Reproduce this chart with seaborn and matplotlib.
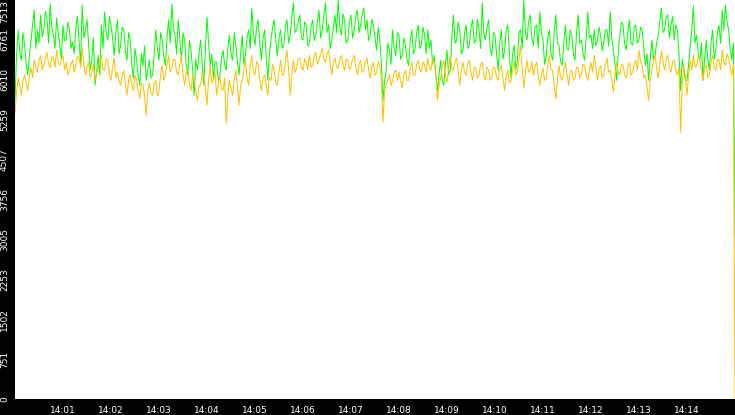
import numpy as np
import pandas as pd
import matplotlib
matplotlib.use("Agg")
import matplotlib.pyplot as plt
import matplotlib.dates as mdates
import seaborn as sns

sns.set_theme(style="white")
plt.rcParams["font.family"] = ["DejaVu Sans"]

start = "2024-01-01 14:00:00"
end = "2024-01-01 14:15:00"
step = "2s"

green = [
    5620, 6500, 6950, 6520, 6380, 6900, 6660, 6300, 6100, 6450, 6760, 7050, 7320, 6600, 6950, 6700, 7230, 6820, 6950, 7300,
    7140, 6700, 7440, 7000, 6850, 6600, 7170, 6900, 6660, 6400, 7040, 6750, 6760, 7100, 6950, 6600, 6720, 6500, 6980, 7200,
    6760, 6300, 7420, 6800, 6950, 7150, 6660, 6200, 6380, 6800, 5910, 6150, 6470, 6100, 7040, 6600, 7290, 6900, 6760, 7200,
    7040, 6800, 6470, 6900, 7140, 6500, 6660, 7000, 6950, 6550, 6380, 6900, 6760, 6300, 6040, 6600, 6380, 6100, 5910, 6500,
    6280, 6650, 6000, 6200, 6380, 6050, 6100, 6500, 6950, 6600, 6380, 6900, 6760, 6450, 6280, 6800, 7140, 6700, 7440, 7000,
    6850, 6500, 7140, 6800, 6380, 6900, 6760, 6300, 6100, 6750, 6570, 6200, 5720, 6400, 6190, 6500, 6760, 6300, 5910, 6600,
    7190, 6700, 6280, 6500, 6040, 6350, 6340, 6000, 6100, 6400, 6570, 6300, 6190, 6600, 6850, 6500, 6380, 6900, 6660, 6350,
    6100, 6500, 6850, 6300, 6470, 6800, 6950, 6600, 7360, 6900, 6660, 7000, 7140, 6700, 6380, 6800, 6950, 6450, 6000, 6500,
    6760, 7000, 7140, 6750, 6470, 6800, 6950, 6600, 6660, 7000, 7140, 6700, 6850, 7200, 7460, 6900, 6950, 7100, 7230, 6800,
    6760, 7100, 7040, 6650, 6700, 7000, 7140, 6750, 6850, 7100, 7320, 6800, 6950, 7200, 7460, 6900, 7040, 6600, 6760, 7000,
    7230, 6900, 7510, 7000, 6850, 7250, 7140, 6700, 6760, 7100, 7230, 6800, 6950, 7200, 7320, 6900, 7040, 7250, 7360, 6950,
    7140, 6750, 6850, 7150, 7040, 6800, 6570, 7000, 6760, 6300, 5620, 6000, 6190, 6700, 6570, 6300, 6950, 6600, 6470, 6900,
    6850, 6400, 6470, 6800, 6660, 6400, 6280, 6750, 6950, 6500, 6570, 6900, 7040, 6600, 6660, 7000, 6850, 6500, 6950, 6600,
    6760, 6300, 6470, 6100, 5810, 6100, 6380, 6000, 5910, 6300, 6570, 6100, 6190, 6800, 7230, 6700, 6760, 7100, 6950, 6500,
    6570, 6900, 7040, 6600, 6660, 7000, 7140, 6700, 6760, 7150, 6950, 6600, 7460, 6900, 6760, 7000, 7140, 6600, 6470, 6900,
    6850, 6500, 6190, 6700, 6950, 6400, 6570, 6950, 7040, 6500, 6040, 6500, 6660, 6200, 6380, 6900, 6950, 6600, 7510, 6900,
    6760, 7100, 7230, 6800, 6660, 7000, 7040, 6600, 7290, 6900, 6760, 6300, 6470, 6800, 6950, 6500, 6380, 6900, 7230, 6700,
    6660, 6350, 6280, 6700, 7040, 6600, 6570, 6950, 6850, 6500, 6380, 6900, 7230, 6700, 6760, 6500, 6380, 6800, 7290, 6800,
    6850, 6600, 6950, 6650, 6760, 7000, 6850, 6550, 6720, 6950, 6950, 6650, 7290, 6800, 6570, 6300, 6000, 6500, 6850, 7100,
    7040, 6700, 6570, 6900, 7140, 6700, 6660, 7000, 7040, 6700, 6760, 7000, 6950, 6600, 6280, 6500, 6000, 6400, 6760, 6400,
    6470, 6700, 6850, 7100, 7360, 6900, 6950, 7200, 7230, 6800, 7040, 7200, 6760, 7050, 6950, 6500, 5810, 6400, 6190, 6000,
    6000, 6300, 6660, 6950, 7400, 6700, 6850, 6500, 6380, 6700, 6000, 6400, 6760, 6400, 6190, 6700, 6950, 6400, 6570, 6900,
    7040, 6700, 7320, 6950, 7420, 7100, 6950, 6600, 6380, 6700, 3050,
]

orange = [
    5380, 5800, 6040, 5900, 5720, 6000, 6100, 5950, 5810, 6100, 6230, 6050, 6380, 6250, 6150, 6350, 6470, 6200, 6280, 6400,
    6530, 6300, 6230, 6450, 6420, 6250, 6570, 6350, 6280, 6400, 6470, 6200, 6340, 6100, 6190, 6300, 6380, 6150, 6280, 6450,
    6420, 6250, 6610, 6300, 6100, 6250, 6340, 6050, 6150, 6300, 6000, 6150, 6230, 6350, 6470, 6200, 6190, 6400, 6380, 6100,
    6000, 6250, 6420, 6050, 6150, 6000, 5910, 6100, 6190, 5900, 5720, 6000, 6100, 5900, 5810, 6100, 6000, 5800, 5660, 5950,
    5910, 5700, 5340, 5800, 5960, 5750, 5720, 5950, 6000, 5700, 5810, 6100, 6280, 6000, 6100, 6300, 6470, 6150, 6230, 6400,
    6380, 6150, 6100, 6300, 6470, 6100, 5910, 6150, 6190, 5950, 5810, 6100, 6000, 5800, 5620, 5900, 5910, 6150, 6100, 5850,
    5530, 6000, 6280, 5950, 6000, 6150, 5720, 5900, 6100, 5850, 5810, 6050, 5190, 5700, 6000, 5850, 5720, 6000, 6190, 5900,
    5530, 5900, 6000, 6200, 6380, 6050, 5910, 6250, 6470, 6150, 6100, 6350, 6280, 6000, 5810, 6050, 6100, 5900, 5720, 6050,
    6000, 6300, 6190, 5950, 5910, 6150, 6380, 6100, 6100, 6350, 6570, 6200, 5720, 6100, 6380, 6150, 6230, 6400, 6420, 6250,
    6190, 6400, 6340, 6200, 6470, 6250, 6280, 6450, 6530, 6300, 6380, 6500, 6610, 6400, 6340, 6500, 6570, 6300, 6100, 6350,
    6420, 6250, 6230, 6400, 6470, 6300, 6190, 6400, 6380, 6200, 6280, 6400, 6470, 6250, 6100, 6300, 6380, 6150, 6190, 6350,
    6420, 6200, 6040, 6250, 6340, 6100, 6150, 6350, 6280, 6000, 5210, 5800, 5910, 6000, 6100, 5900, 6000, 6150, 6190, 6000,
    6150, 6000, 5850, 6100, 6190, 6000, 6000, 6250, 6340, 6100, 6100, 6300, 6380, 6200, 6150, 6350, 6280, 6150, 6420, 6250,
    6190, 6400, 6340, 6150, 5620, 5900, 6040, 6250, 6380, 6100, 5960, 6200, 6470, 6250, 6190, 6350, 6420, 6150, 5910, 6200,
    6340, 6150, 6100, 6300, 6380, 6150, 6000, 6250, 6230, 6050, 6100, 6300, 6340, 6100, 6000, 6250, 6190, 6000, 6040, 6250,
    6230, 6050, 6000, 6200, 6280, 6050, 5810, 6100, 6190, 5950, 6000, 6200, 6340, 6100, 6150, 6400, 6660, 6200, 5850, 6150,
    6380, 6150, 6190, 6350, 6100, 6250, 6340, 6100, 5910, 6100, 6230, 6000, 6040, 6300, 6470, 6200, 6190, 5900, 5640, 6000,
    6280, 6050, 6000, 6200, 6340, 6100, 5910, 6150, 6190, 6000, 6040, 6250, 6230, 6050, 6100, 6300, 6280, 6100, 6000, 6200,
    6340, 6150, 6470, 6250, 6000, 6200, 6280, 6050, 6100, 6300, 6420, 6150, 6190, 6000, 5770, 6100, 6340, 6150, 6100, 6300,
    6280, 6100, 6040, 6250, 6340, 6100, 6150, 6300, 6380, 6200, 6570, 6350, 6280, 6050, 6100, 5900, 5620, 6000, 6190, 6350,
    6470, 6250, 6040, 6300, 6570, 6350, 6190, 6400, 6470, 6250, 6150, 6350, 6380, 6200, 6100, 6250, 5020, 5900, 6280, 6050,
    5720, 6100, 6380, 6200, 6470, 6250, 6280, 6450, 6420, 6200, 6000, 6250, 6280, 6050, 6100, 6350, 6470, 6250, 6190, 6400,
    6380, 6200, 6570, 6350, 6280, 6500, 6420, 6250, 6100, 6300, 0,
]

y_max = 7513
y_tick_labels = ["0", "751", "1502", "2253", "3005", "3756",
                 "4507", "5259", "6010", "6761", "7513"]

series_names = ["green", "orange"]
series_values = {"green": green, "orange": orange}
palette = {"green": "#00ff00", "orange": "#ffc000"}

frames = []
for name in series_names:
    vals = series_values[name]
    frames.append(pd.DataFrame({
        "time": pd.date_range(start, periods=len(vals), freq=step),
        "value": vals,
        "series": name,
    }))
df = pd.concat(frames, ignore_index=True)

W, H = 735, 415
PX = 72 / 100  # points per pixel
fig = plt.figure(figsize=(W / 100, H / 100), dpi=100, facecolor="black")
ax = fig.add_axes([15 / W, 16 / H, 720 / W, 399 / H])
ax.set_facecolor("white")

sns.lineplot(data=df, x="time", y="value", hue="series",
             hue_order=series_names, palette=palette, linewidth=1.0 * PX,
             legend=False, estimator=None, errorbar=None, ax=ax)

ax.set_xlim(pd.Timestamp(start), pd.Timestamp(end))
ax.set_ylim(0, y_max)
ax.xaxis.set_major_locator(mdates.MinuteLocator(byminute=range(1, 15)))
ax.xaxis.set_major_formatter(mdates.DateFormatter("%H:%M"))
ax.set_yticks(np.linspace(0, y_max, len(y_tick_labels)))
ax.set_yticklabels(y_tick_labels, rotation=90, va="center")
ax.get_yticklabels()[-1].set_va("top")

ax.tick_params(axis="both", colors="white", labelcolor="white",
               length=5 * PX, width=1 * PX, direction="out", labelsize=9 * PX)
ax.tick_params(axis="y", pad=1 * PX)
ax.tick_params(axis="x", pad=2 * PX)
ax.set_xlabel("")
ax.set_ylabel("")
for s in ax.spines.values():
    s.set_visible(False)

fig.savefig("out.png", dpi=100, facecolor="black")
